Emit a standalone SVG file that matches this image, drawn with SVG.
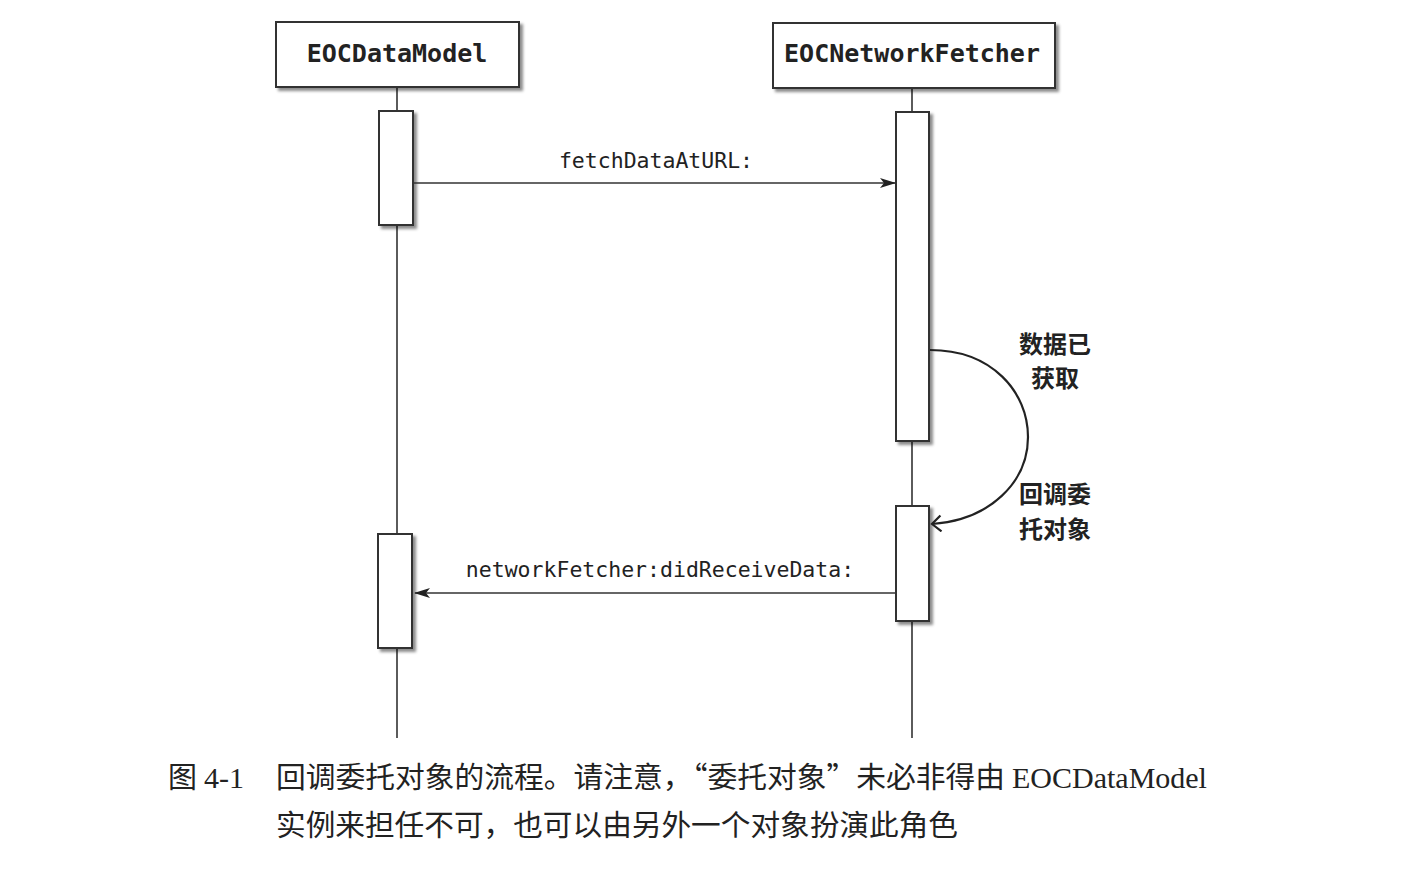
<svg xmlns="http://www.w3.org/2000/svg" width="1420" height="870" viewBox="0 0 1420 870">
<defs>
<filter id="sh" x="-20%" y="-20%" width="140%" height="140%">
<feDropShadow dx="3" dy="3" stdDeviation="1.8" flood-color="#000" flood-opacity="0.45"/>
</filter>
<marker id="fill" markerWidth="16" markerHeight="12" refX="15" refY="6" orient="auto" markerUnits="userSpaceOnUse">
<path d="M0,1 L16,6 L0,11 L4,6 Z" fill="#222"/>
</marker>
<marker id="open" markerWidth="16" markerHeight="18" refX="12" refY="9" orient="auto" markerUnits="userSpaceOnUse">
<path d="M3,1 L12,9 L3,17" fill="none" stroke="#222" stroke-width="2.2"/>
</marker>
</defs>
<style>
.box{fill:#fff;stroke:#333;stroke-width:2;filter:url(#sh)}
.life{stroke:#333;stroke-width:1.6;fill:none}
.msg{stroke:#333;stroke-width:1.6;fill:none}
.curve{stroke:#222;stroke-width:2.2;fill:none}
.title{font-family:"DejaVu Sans Mono",monospace;font-weight:bold;font-size:25px;fill:#222;text-anchor:middle}
.lbl{font-family:"DejaVu Sans Mono",monospace;font-size:21.5px;fill:#222;text-anchor:middle}
.cn{font-family:"Noto Sans CJK SC",sans-serif;font-weight:bold;font-size:24px;fill:#222;text-anchor:middle}
.cap{font-family:"Liberation Serif","Noto Sans CJK SC",serif;font-size:30px;fill:#222}
.capcn{font-family:"Noto Sans CJK SC",sans-serif;font-size:29px;fill:#222}
</style>
<rect width="1420" height="870" fill="#fff"/>
<g id="connectors">
<line class="life" x1="397" y1="88" x2="397" y2="738"/>
<line class="life" x1="912" y1="89" x2="912" y2="738"/>
</g>
<g id="EOCDataModel">
<rect class="box" x="276" y="22" width="243" height="65"/>
<text class="title" x="397" y="62">EOCDataModel</text>
</g>
<g id="EOCNetworkFetcher">
<rect class="box" x="773" y="23" width="282" height="65"/>
<text class="title" x="912" y="62">EOCNetworkFetcher</text>
</g>
<g id="act-model-1"><rect class="box" x="379" y="111" width="34" height="114"/></g>
<g id="act-fetcher-1"><rect class="box" x="896" y="112" width="33" height="329"/></g>
<g id="act-fetcher-2"><rect class="box" x="896" y="506" width="33" height="115"/></g>
<g id="act-model-2"><rect class="box" x="378" y="534" width="34" height="114"/></g>
<g id="messages">
<line class="msg" x1="413" y1="183" x2="895" y2="183" marker-end="url(#fill)"/>
<text class="lbl" x="656" y="168">fetchDataAtURL:</text>
<line class="msg" x1="895" y1="593" x2="415" y2="593" marker-end="url(#fill)"/>
<text class="lbl" x="660" y="577">networkFetcher:didReceiveData:</text>
<path class="curve" d="M930,350 C992,350 1028,392 1028,437 C1028,482 990,520 932,524" marker-end="url(#open)"/>
</g>
<g id="notes">
<text class="cn" x="1055" y="353">数据已</text>
<text class="cn" x="1055" y="387">获取</text>
<text class="cn" x="1055" y="503">回调委</text>
<text class="cn" x="1055" y="538">托对象</text>
</g>
<g id="caption">
<text class="capcn" x="168" y="788">图</text>
<text class="cap" x="204" y="788">4-1</text>
<text class="capcn" x="276" y="788" textLength="729" lengthAdjust="spacingAndGlyphs">回调委托对象的流程。请注意，“委托对象”未必非得由</text>
<text class="cap" x="1012" y="788">EOCDataModel</text>
<text class="capcn" x="276" y="836" textLength="682" lengthAdjust="spacingAndGlyphs">实例来担任不可，也可以由另外一个对象扮演此角色</text>
</g>
</svg>
